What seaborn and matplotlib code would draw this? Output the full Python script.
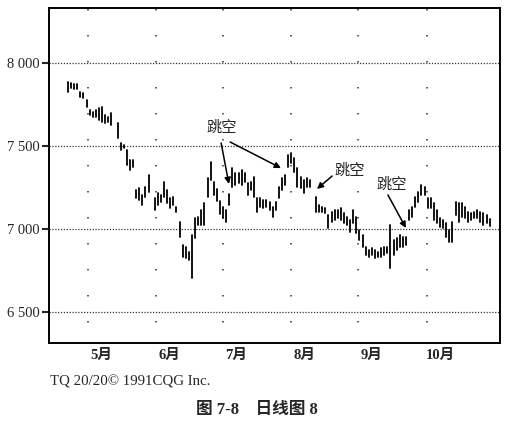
import pandas as pd
import matplotlib
matplotlib.use("Agg")
import matplotlib.pyplot as plt
import seaborn as sns

# daily bars: trading-day index, high, low
days = [*range(0, 15), *range(16, 27), *range(28, 79), *range(80, 137)]
highs = [7885, 7880, 7875, 7875, 7825, 7820, 7775, 7715, 7705, 7715, 7730, 7735, 7685, 7675, 7700,
         7640, 7520, 7505, 7475, 7415, 7415, 7235, 7245, 7205, 7255, 7325,
         7185, 7215, 7205, 7285, 7235, 7185, 7195, 7135, 7040, 6905, 6890, 6860, 6965, 7065, 7070,
         7115, 7155, 7305, 7405, 7285, 7240, 7170, 7135, 7115, 7210, 7365, 7335, 7335, 7355, 7335,
         7275, 7285, 7315, 7185, 7185, 7175, 7175, 7165, 7135, 7165, 7255, 7305, 7325, 7445, 7460,
         7430, 7365, 7315, 7295, 7305, 7295,
         7195, 7145, 7135, 7125, 7085, 7100, 7115, 7115, 7125, 7095, 7070, 7055, 7115, 7070, 6995,
         6965, 6890, 6875, 6885, 6875, 6860, 6885, 6890, 6890, 7025, 6935, 6945, 6965, 6950, 6950,
         7115, 7135, 7195, 7225, 7265, 7255, 7185, 7185, 7155, 7115, 7065, 7055, 7035, 6995, 7040,
         7165, 7155, 7155, 7135, 7100, 7095, 7100, 7115, 7100, 7095, 7085, 7060]
lows = [7825, 7850, 7845, 7845, 7795, 7790, 7735, 7685, 7675, 7675, 7655, 7645, 7640, 7645, 7625,
        7550, 7475, 7490, 7385, 7355, 7375, 7185, 7175, 7145, 7195, 7225,
        7115, 7145, 7165, 7195, 7155, 7125, 7145, 7100, 6950, 6830, 6825, 6815, 6705, 6945, 7025,
        7025, 7025, 7195, 7295, 7205, 7170, 7090, 7065, 7040, 7145, 7255, 7265, 7275, 7265, 7285,
        7205, 7235, 7195, 7100, 7135, 7125, 7135, 7115, 7070, 7115, 7185, 7235, 7265, 7375, 7400,
        7345, 7255, 7245, 7215, 7255, 7255,
        7100, 7100, 7100, 7095, 7005, 7040, 7055, 7065, 7055, 7035, 7025, 6980, 7035, 6975, 6935,
        6890, 6845, 6830, 6845, 6825, 6830, 6830, 6845, 6855, 6765, 6845, 6875, 6890, 6890, 6905,
        7055, 7070, 7135, 7165, 7205, 7205, 7125, 7125, 7055, 7035, 7010, 7005, 6950, 6920, 6920,
        7085, 7040, 7070, 7065, 7040, 7055, 7065, 7065, 7040, 7025, 7035, 7020]

month_starts = [6.5, 28.4, 50.0, 71.9, 93.5, 115.8]
month_labels = ["5月", "6月", "7月", "8月", "9月", "10月"]
price_ticks = [6500, 7000, 7500, 8000]
price_labels = ["6 500", "7 000", "7 500", "8 000"]

# "跳空" notes: text position, then arrows (tail -> head)
gap_texts = [(49.7, 7608), (91.0, 7350), (104.5, 7265)]
gap_arrows = [((49.4, 7518), (51.9, 7271)),
              ((52.3, 7524), (68.7, 7367)),
              ((85.2, 7319), (80.3, 7241)),
              ((103.2, 7205), (109.0, 7006))]

bars = pd.DataFrame({"day": days + days, "price": highs + lows})

sns.set_style("white")
plt.rcParams['font.family'] = ['Liberation Serif', 'Noto Sans CJK SC']

fig = plt.figure(figsize=(5.29, 4.24), dpi=100)
ax = fig.add_axes([0.0926, 0.191, 0.8526, 0.790])

sns.lineplot(data=bars, x="day", y="price", units="day", estimator=None,
             color="black", lw=1.3, sort=False, ax=ax, legend=False)

for y in price_ticks:
    ax.axhline(y, color="#333333", lw=0.9, ls=(0, (1, 1.3)), zorder=0)
for x in month_starts:
    ax.axvline(x, color="#333333", lw=1.3, ls=(3, (0.7, 13.7)), zorder=0)

ax.set_xlim(-6.13, 139.35)
ax.set_ylim(6313, 8331)
ax.set_yticks(price_ticks)
ax.set_yticklabels(price_labels, fontsize=10.5)
ax.set_xticks([m + 4.3 for m in month_starts])
ax.set_xticklabels(month_labels, fontsize=10.5, fontweight="bold")
ax.tick_params(axis="y", direction="out", length=5, width=1.5, pad=2, left=True)
ax.tick_params(axis="x", length=0, pad=4)
ax.set_xlabel("")
ax.set_ylabel("")
for side in ["left", "right", "top", "bottom"]:
    ax.spines[side].set_color("black")
    ax.spines[side].set_linewidth(1.4)

for (tx, ty) in gap_texts:
    ax.text(tx, ty, "跳空", fontsize=11, ha="center", va="center")
for (tail, head) in gap_arrows:
    ax.annotate("", xy=head, xytext=tail,
                arrowprops=dict(arrowstyle="-|>", color="black", lw=1.1,
                                mutation_scale=9, shrinkA=0, shrinkB=0))

fig.text(50 / 529, 1 - 382 / 424, "TQ 20/20© 1991CQG Inc.", fontsize=10.7,
         ha="left", va="center")
fig.text(257 / 529, 1 - 410 / 424, "图 7-8    日线图 8", fontsize=12,
         fontweight="bold", ha="center", va="center")

plt.savefig("out.png", dpi=100)
